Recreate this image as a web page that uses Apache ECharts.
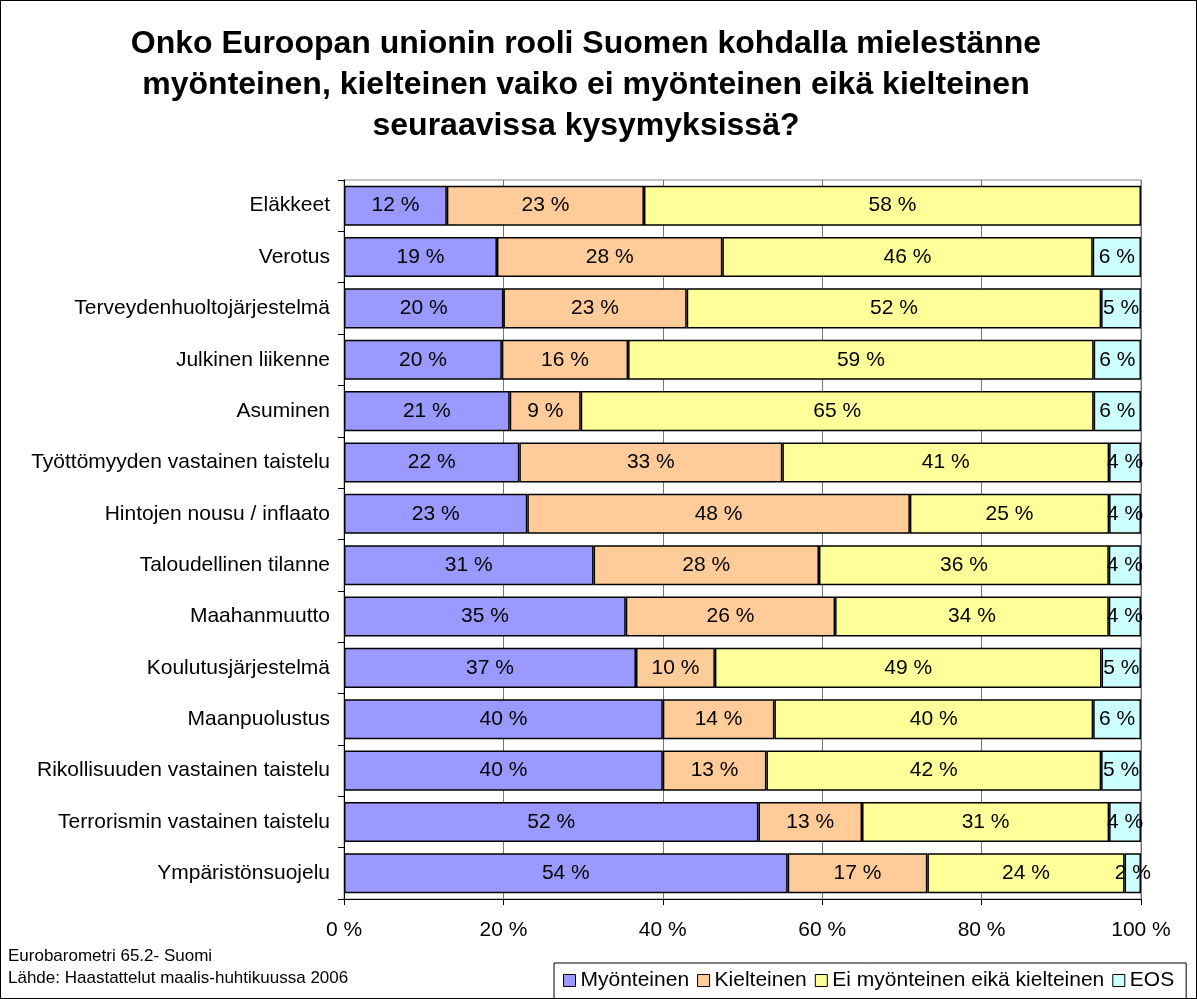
<!DOCTYPE html>
<html>
<head>
<meta charset="utf-8">
<script src="https://cdn.jsdelivr.net/npm/echarts@6/dist/echarts.min.js"></script>
<style>
  html, body { margin: 0; padding: 0; background: #fff; }
  #root { width: 1197px; height: 999px; box-sizing: border-box; border: 1px solid #000; }
</style>
</head>
<body>
<div id="root"></div>
<script>
// data, top row first
var categories = ['Eläkkeet', 'Verotus', 'Terveydenhuoltojärjestelmä', 'Julkinen liikenne', 'Asuminen',
    'Työttömyyden vastainen taistelu', 'Hintojen nousu / inflaato', 'Taloudellinen tilanne', 'Maahanmuutto',
    'Koulutusjärjestelmä', 'Maanpuolustus', 'Rikollisuuden vastainen taistelu', 'Terrorismin vastainen taistelu',
    'Ympäristönsuojelu']
var myonteinen = [12, 19, 20, 20, 21, 22, 23, 31, 35, 37, 40, 40, 52, 54]
var kielteinen = [23, 28, 23, 16, 9, 33, 48, 28, 26, 10, 14, 13, 13, 17]
var eiKumpikaan = [58, 46, 52, 59, 65, 41, 25, 36, 34, 49, 40, 42, 31, 24]
var eos = [null, 6, 5, 6, 6, 4, 4, 4, 4, 5, 6, 5, 4, 2]
var seriesNames = ['Myönteinen', 'Kielteinen', 'Ei myönteinen eikä kielteinen', 'EOS']
var xTicks = [0, 20, 40, 60, 80, 100]

var font = '"Liberation Sans", Arial, sans-serif'
var raw = [myonteinen, kielteinen, eiKumpikaan, eos]
var colors = ['#9999FF', '#FFCC99', '#FFFF99', '#CCFFFF']

// bars are shown as share of the row total (100 % stacked)
var totals = categories.map(function (c, i) {
    return raw.reduce(function (s, arr) { return s + (arr[i] || 0) }, 0)
})

var series = raw.map(function (arr, k) {
    return {
        name: seriesNames[k],
        type: 'bar',
        stack: 'all',
        barCategoryGap: '22%',
        itemStyle: { color: colors[k], borderColor: '#000', borderWidth: 1.5 },
        label: {
            show: true,
            position: 'inside',
            color: '#000',
            fontFamily: font,
            fontSize: 21,
            formatter: function (p) { return arr[p.dataIndex] + ' %' }
        },
        emphasis: { disabled: true },
        data: arr.map(function (v, i) {
            return v == null ? null : v / totals[i] * 100
        })
    }
})

var chart = echarts.init(document.getElementById('root'))
chart.setOption({
    animation: false,
    title: {
        text: 'Onko Euroopan unionin rooli Suomen kohdalla mielestänne\nmyönteinen, kielteinen vaiko ei myönteinen eikä kielteinen\nseuraavissa kysymyksissä?',
        left: 580,
        textAlign: 'center',
        top: 18,
        textStyle: { fontFamily: font, fontSize: 32, fontWeight: 'bold', color: '#000', lineHeight: 41 }
    },
    grid: {
        left: 343, right: 55, top: 179, bottom: 99,
        show: true, borderColor: '#888', borderWidth: 1
    },
    legend: {
        left: 553, top: 962,
        orient: 'horizontal',
        padding: [7, 12, 9, 9],
        itemGap: 8,
        itemWidth: 12, itemHeight: 12,
        icon: 'rect',
        borderColor: '#000', borderWidth: 1,
        itemStyle: { borderColor: '#000', borderWidth: 1 },
        textStyle: { fontFamily: font, fontSize: 21, color: '#000' },
        data: seriesNames
    },
    xAxis: {
        type: 'value',
        min: xTicks[0], max: xTicks[xTicks.length - 1], interval: 20,
        axisLine: { show: true, lineStyle: { color: '#000', width: 1 } },
        axisTick: { show: true, length: 6, lineStyle: { color: '#000' } },
        axisLabel: { margin: 21, fontFamily: font, fontSize: 21, color: '#000', formatter: '{value} %' },
        splitLine: { show: true, lineStyle: { color: '#777', width: 1 } }
    },
    yAxis: {
        type: 'category',
        inverse: true,
        data: categories,
        axisLine: { show: true, lineStyle: { color: '#000', width: 1 } },
        axisTick: { show: true, length: 6, lineStyle: { color: '#000' } },
        axisLabel: { margin: 14, fontFamily: font, fontSize: 21, color: '#000' }
    },
    graphic: [
        { type: 'text', left: 7, top: 947, style: { text: 'Eurobarometri 65.2- Suomi', font: '17px ' + font, fill: '#000' } },
        { type: 'text', left: 7, top: 969, style: { text: 'Lähde: Haastattelut maalis-huhtikuussa 2006', font: '17px ' + font, fill: '#000' } }
    ],
    series: series
})
</script>
</body>
</html>
